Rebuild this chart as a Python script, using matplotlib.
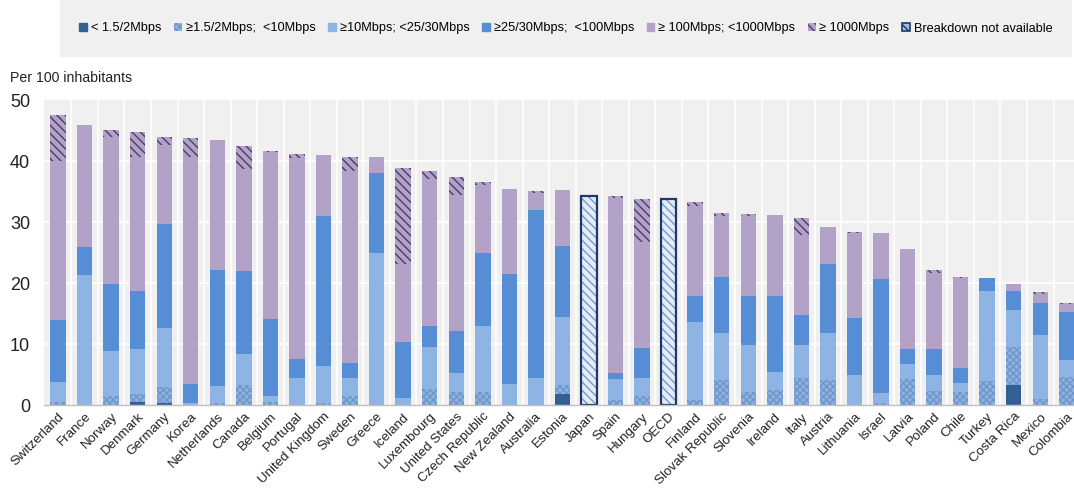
import matplotlib
matplotlib.use("Agg")
import matplotlib.pyplot as plt
from matplotlib import font_manager
from matplotlib.patches import Patch
import numpy as np

countries = ["Switzerland", "France", "Norway", "Denmark", "Germany", "Korea", "Netherlands",
             "Canada", "Belgium", "Portugal", "United Kingdom", "Sweden", "Greece", "Iceland",
             "Luxembourg", "United States", "Czech Republic", "New Zealand", "Australia",
             "Estonia", "Japan", "Spain", "Hungary", "OECD", "Finland", "Slovak Republic",
             "Slovenia", "Ireland", "Italy", "Austria", "Lithuania", "Israel", "Latvia",
             "Poland", "Chile", "Turkey", "Costa Rica", "Mexico", "Colombia"]

# < 1.5/2Mbps
s_lt2 = [0, 0, 0, 0.55, 0.4, 0, 0, 0, 0, 0, 0, 0, 0, 0, 0, 0, 0, 0, 0,
         1.75, 0, 0, 0, 0, 0, 0, 0, 0, 0, 0, 0, 0, 0, 0, 0, 0, 3.3, 0, 0]
# >=1.5/2Mbps; <10Mbps
s_2_10 = [0.5, 0, 1.4, 1.25, 2.6, 0, 0.3, 3.3, 0.5, 0, 0.4, 1.4, 0, 0, 2.7, 2.2, 2.1, 0, 0,
          1.55, 0, 0.8, 1.5, 0, 0.8, 4.05, 2.2, 2.4, 4.5, 4.05, 0, 0.3, 4.3,
          2.3, 2.1, 3.95, 6.3, 1.0, 4.65]
# >=10Mbps; <25/30Mbps
s_10_25 = [3.3, 21.3, 7.5, 7.4, 9.7, 0.4, 2.8, 5.1, 0.9, 4.5, 6.0, 3.1, 25.0, 1.1, 6.8, 3.1, 10.9, 3.4, 4.5,
           11.2, 0, 3.5, 2.9, 0, 12.85, 7.8, 7.7, 3.1, 5.4, 7.8, 5.0, 1.7, 2.5,
           2.7, 1.5, 14.75, 6.0, 10.5, 2.75]
# >=25/30Mbps; <100Mbps
s_25_100 = [10.1, 4.7, 10.9, 9.55, 17.1, 3.1, 19.0, 13.6, 12.7, 3.1, 24.7, 2.4, 13.1, 9.2, 3.5, 6.9, 11.9, 18.2, 27.6,
            11.6, 0, 1.0, 5.0, 0, 4.25, 9.2, 8.0, 12.4, 4.9, 11.25, 9.25, 18.7, 2.35,
            4.15, 2.4, 2.1, 3.2, 5.2, 7.95]
# >=100Mbps; <1000Mbps
s_100_1000 = [26.1, 20.0, 24.3, 22.05, 12.85, 37.2, 21.4, 16.8, 27.4, 32.9, 10.0, 31.5, 2.6, 12.9, 24.2, 22.3, 11.3, 13.9, 2.7,
              9.2, 0, 28.7, 17.35, 0, 14.8, 10.05, 13.2, 13.3, 13.2, 6.1, 13.95, 7.6, 16.45,
              12.5, 14.9, 0, 1.05, 1.55, 1.25]
# >=1000Mbps
s_1000 = [7.7, 0, 1.1, 4.0, 1.45, 3.2, 0, 3.7, 0.3, 0.7, 0, 2.3, 0, 15.7, 1.2, 2.9, 0.5, 0, 0.3,
          0, 0, 0.3, 7.15, 0, 0.7, 0.4, 0.2, 0, 2.7, 0, 0.25, 0, 0,
          0.55, 0.2, 0, 0, 0.25, 0.2]
# Breakdown not available (total only)
s_na = [0, 0, 0, 0, 0, 0, 0, 0, 0, 0, 0, 0, 0, 0, 0, 0, 0, 0, 0,
        0, 34.3, 0, 0, 33.8, 0, 0, 0, 0, 0, 0, 0, 0, 0,
        0, 0, 0, 0, 0, 0]

legend_labels = ["< 1.5/2Mbps", "\u22651.5/2Mbps;  <10Mbps", "\u226510Mbps; <25/30Mbps",
                 "\u226525/30Mbps;  <100Mbps", "\u2265 100Mbps; <1000Mbps", "\u2265 1000Mbps",
                 "Breakdown not available"]
yticks = [0, 10, 20, 30, 40, 50]

def pick_font():
    for fam in ["Liberation Sans Narrow", "Liberation Sans", "Arial"]:
        try:
            font_manager.findfont(font_manager.FontProperties(family=fam), fallback_to_default=False)
            return fam
        except Exception:
            continue
    return "DejaVu Sans"

fam = pick_font()
plt.rcParams["font.family"] = [fam, "DejaVu Sans"]
plt.rcParams["hatch.linewidth"] = 1.0

W, H = 1074, 491
fig = plt.figure(figsize=(W / 100, H / 100), dpi=100)
ax = fig.add_axes([44 / W, (H - 405) / H, (1074 - 44) / W, (405 - 100) / H])
ax.set_facecolor("#f0f0f0")

x = np.arange(len(countries))
bw = 0.58

series = [
    (s_lt2, dict(color="#345f95")),
    (s_2_10, dict(facecolor="#8eb2e0", edgecolor="#6f96cc", hatch="xxxxx")),
    (s_10_25, dict(color="#8eb4e3")),
    (s_25_100, dict(color="#558ed5")),
    (s_100_1000, dict(color="#b3a2c7")),
    (s_1000, dict(facecolor="#b3a2c7", edgecolor="#4b3b6e", hatch="\\\\\\\\")),
]
bottom = np.zeros(len(countries))
for vals, style in series:
    v = np.array(vals, dtype=float)
    ax.bar(x, v, bw, bottom=bottom, linewidth=0, zorder=3, **style)
    bottom += v

na = np.array(s_na, dtype=float)
mask = na > 0
ax.bar(x[mask], na[mask], bw, facecolor="#e3ecf7", edgecolor="#6f9bd4", hatch="\\\\\\\\",
       linewidth=0, zorder=3)
ax.bar(x[mask], na[mask], bw, fill=False, edgecolor="#1f3864", linewidth=1.6, zorder=4)

ax.set_xlim(-0.53, 38.27)
ax.set_ylim(0, 50.1)
ax.set_yticks(yticks)
ax.set_yticklabels([str(t) for t in yticks], fontsize=13, color="#222222")
ax.set_xticks(x)
ax.set_xticklabels(countries, rotation=45, ha="right", rotation_mode="anchor",
                   fontsize=9.6, color="#222222")
ax.tick_params(axis="both", length=0)
ax.tick_params(axis="y", pad=10)
ax.tick_params(axis="x", pad=4)

for t in yticks[1:-1]:
    ax.axhline(t, color="white", linewidth=1.2, zorder=1)
for xi in np.arange(0.5, len(countries) - 0.5, 1.0):
    ax.axvline(xi, color="white", linewidth=1.2, zorder=1)
for side in ["top", "right", "left"]:
    ax.spines[side].set_visible(False)
ax.spines["bottom"].set_color("#bfbfbf")
ax.spines["bottom"].set_linewidth(1.0)
ax.spines["bottom"].set_zorder(5)

fig.text(10 / W, 1 - 78 / H, "Per 100 inhabitants", fontsize=10.2, color="#222222",
         va="center", ha="left")

# Legend
handles = [
    Patch(color="#345f95"),
    Patch(facecolor="#8eb2e0", edgecolor="#6f96cc", hatch="xxxxx", linewidth=0),
    Patch(color="#8eb4e3"),
    Patch(color="#558ed5"),
    Patch(color="#b3a2c7"),
    Patch(facecolor="#b3a2c7", edgecolor="#4b3b6e", hatch="\\\\\\\\", linewidth=0),
    Patch(facecolor="#9fc0e8", edgecolor="#1f3864", hatch="\\\\\\", linewidth=1.2),
]
legax = fig.add_axes([60 / W, 1 - 57 / H, (1072 - 60) / W, 57 / H])
legax.set_facecolor("#f0f0f0")
legax.set_xticks([])
legax.set_yticks([])
for s in legax.spines.values():
    s.set_visible(False)
leg = legax.legend(handles, legend_labels, loc="center", ncol=7, frameon=False,
                   fontsize=9.2, handlelength=0.6, handleheight=0.6, handletextpad=0.3,
                   columnspacing=1.0, borderaxespad=0)

fig.savefig("out.png", dpi=100)
